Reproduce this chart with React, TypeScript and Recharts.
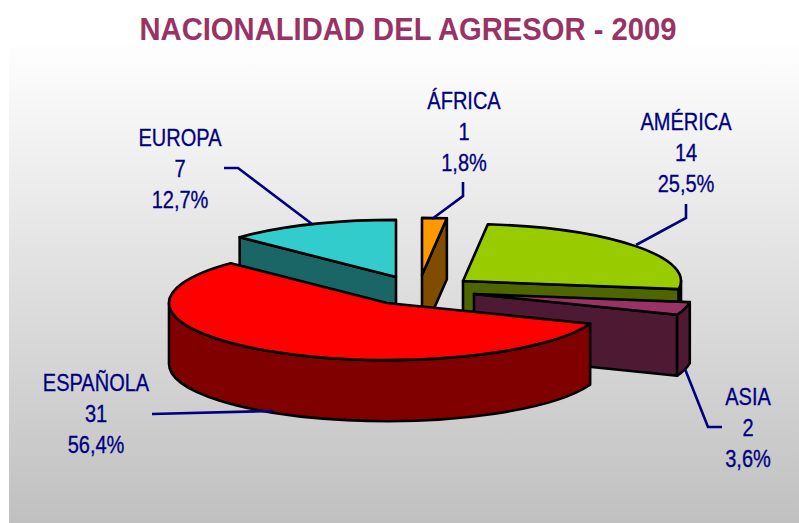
import { Pie, PieChart } from 'recharts';

const categories = ['EUROPA', 'ÁFRICA', 'AMÉRICA', 'ASIA', 'ESPAÑOLA'];
const agresores = [7, 1, 14, 2, 31];

const total = agresores.reduce((sum, v) => sum + v, 0);
// África has to begin at twelve o'clock, Europa is first only so it paints behind the red slice
const firstAngle = 90 + (agresores[0] / total) * 360;

const data = categories.map((name, i) => ({ name, value: agresores[i] }));

const CX = 400;
const CY = 290;
const RADIUS = 218;
const SQUASH = 0.262;
const DEPTH = 61;

interface SliceStyle {
  top: string;
  side: string;
  dx: number;
  dy: number;
  textX: number;
  textY: number;
  leader: string;
}

const sliceStyles: Record<string, SliceStyle> = {
  EUROPA: { top: '#33cccc', side: '#1a6666', dx: -4, dy: -13, textX: 180, textY: 146, leader: '224,168 238,168 312,224' },
  'ÁFRICA': { top: '#ff9900', side: '#804d00', dx: 22, dy: -15, textX: 464, textY: 109, leader: '463,182 463,196 432,219' },
  'AMÉRICA': { top: '#99cc00', side: '#4d6600', dx: 63, dy: -9, textX: 686, textY: 130, leader: '686,204 686,218 636,245' },
  ASIA: { top: '#993366', side: '#4d1933', dx: 74, dy: 4, textX: 748, textY: 405, leader: '685,369 708,427 722,427' },
  'ESPAÑOLA': { top: '#ff0000', side: '#800000', dx: -13, dy: 13, textX: 96, textY: 391, leader: '152,414 273,411' },
};

const project = (tipX: number, tipY: number, angle: number) => {
  const rad = (angle * Math.PI) / 180;
  return {
    x: tipX + RADIUS * Math.cos(rad),
    y: tipY - RADIUS * SQUASH * Math.sin(rad),
  };
};

function Slice3D(props: any) {
  const { name, startAngle, endAngle, cx, cy } = props;
  const style = sliceStyles[name];
  const tipX = cx + style.dx;
  const tipY = cy + style.dy;
  const rx = RADIUS;
  const ry = RADIUS * SQUASH;

  const a = project(tipX, tipY, startAngle);
  const b = project(tipX, tipY, endAngle);
  const large = startAngle - endAngle > 180 ? 1 : 0;
  const topPath = `M${tipX},${tipY} L${a.x},${a.y} A${rx},${ry} 0 ${large} 1 ${b.x},${b.y} Z`;

  const cutFace = (p: { x: number; y: number }) =>
    `M${tipX},${tipY} L${p.x},${p.y} L${p.x},${p.y + DEPTH} L${tipX},${tipY + DEPTH} Z`;

  const showStartCut = Math.cos((startAngle * Math.PI) / 180) < -0.001;
  const showEndCut = Math.cos((endAngle * Math.PI) / 180) > 0.001;

  // rim is only seen on the front half of the ellipse
  const rimFrom = Math.min(startAngle, 0);
  const rimTo = Math.max(endAngle, -180);
  let rimPath = '';
  if (rimFrom > rimTo) {
    const p = project(tipX, tipY, rimFrom);
    const q = project(tipX, tipY, rimTo);
    rimPath = `M${p.x},${p.y} A${rx},${ry} 0 0 1 ${q.x},${q.y} L${q.x},${q.y + DEPTH} A${rx},${ry} 0 0 0 ${p.x},${p.y + DEPTH} Z`;
  }

  const line = { stroke: '#000000', strokeWidth: 2.6, strokeLinejoin: 'round' as const };

  return (
    <g>
      {showStartCut && <path d={cutFace(a)} fill={style.side} {...line} />}
      {showEndCut && <path d={cutFace(b)} fill={style.side} {...line} />}
      {rimPath && <path d={rimPath} fill={style.side} {...line} />}
      <path d={topPath} fill={style.top} {...line} />
    </g>
  );
}

function SliceLabel(props: any) {
  const { name, value, percent } = props;
  const style = sliceStyles[name];
  const lines = [name, String(value), `${(percent * 100).toFixed(1).replace('.', ',')}%`];
  return (
    <g>
      <polyline points={style.leader} fill="none" stroke="#000080" strokeWidth={2.6} />
      {lines.map((text, i) => (
        <text
          key={text}
          transform={`translate(${style.textX},${style.textY + i * 31}) scale(0.87,1)`}
          textAnchor="middle"
          fontFamily="Liberation Sans"
          fontSize={23}
          fill="#000080"
          stroke="#000080"
          strokeWidth={0.3}
        >
          {text}
        </text>
      ))}
    </g>
  );
}

export default function App() {
  return (
    <div style={{ position: 'absolute', left: 0, top: 0, width: 799, height: 523, background: '#ffffff' }}>
      <div
        style={{
          position: 'absolute',
          left: 9,
          top: 8,
          width: 790,
          height: 515,
          background: 'linear-gradient(180deg, #ffffff 6%, #c0c0c0 100%)',
        }}
      />
      <div style={{ position: 'absolute', left: 0, top: 0 }}>
        <PieChart width={799} height={523} margin={{ top: 0, right: 0, bottom: 0, left: 0 }}>
          <text
            x={408}
            y={40}
            textAnchor="middle"
            fontFamily="Liberation Sans"
            fontWeight="bold"
            fontSize={31}
            fill="#993366"
            textLength={537}
            lengthAdjust="spacingAndGlyphs"
          >
            NACIONALIDAD DEL AGRESOR - 2009
          </text>
          <Pie
            data={data}
            dataKey="value"
            nameKey="name"
            cx={CX}
            cy={CY}
            outerRadius={RADIUS}
            startAngle={firstAngle}
            endAngle={firstAngle - 360}
            paddingAngle={0}
            isAnimationActive={false}
            shape={Slice3D}
            label={SliceLabel}
            labelLine={false}
          />
        </PieChart>
      </div>
    </div>
  );
}
